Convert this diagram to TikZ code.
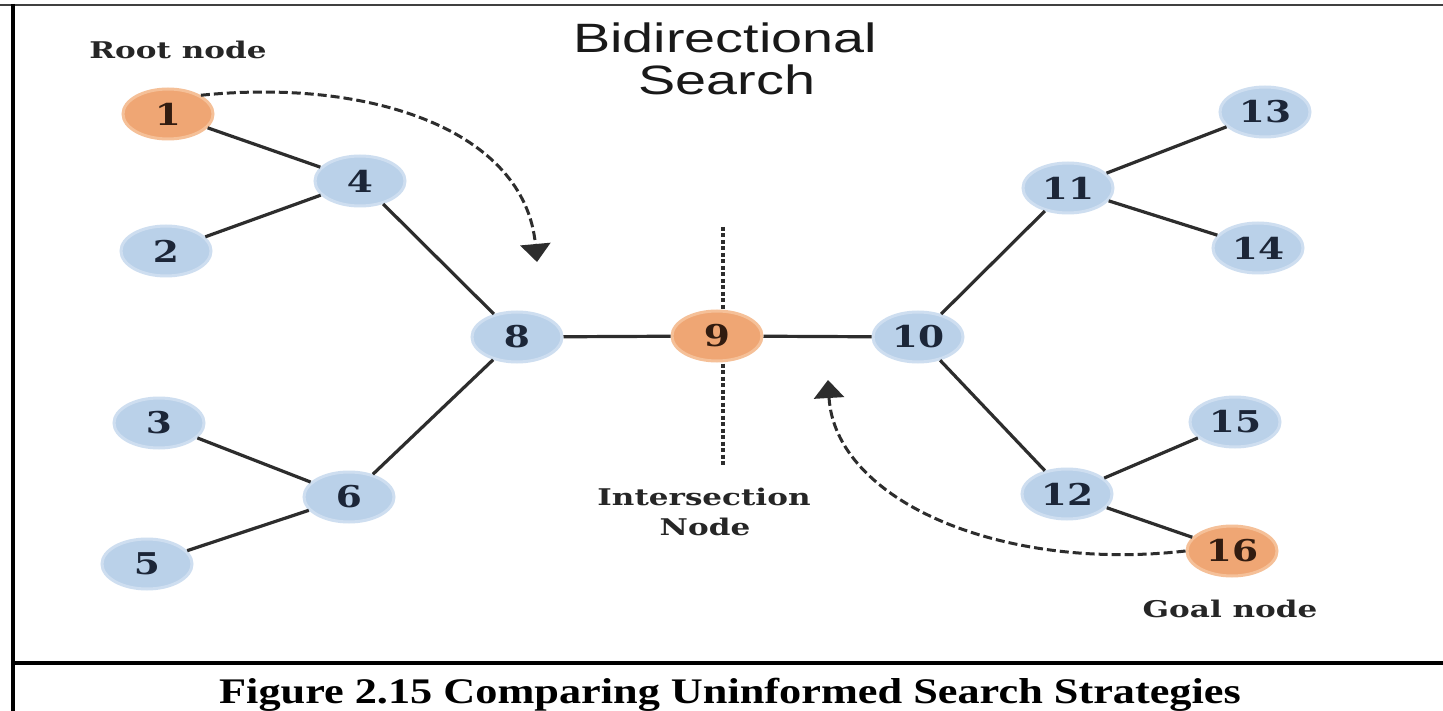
\documentclass[tikz,border=0pt]{standalone}
\usepackage{fontspec}
\usetikzlibrary{arrows.meta,shapes.geometric}
\setmainfont{Liberation Serif}
\newfontfamily\labelfont{DejaVu Serif}
\newfontfamily\titlefont{Liberation Sans}
\newcommand{\hstretch}[2]{\scalebox{#1}[1]{#2}}

\definecolor{nodeblue}{RGB}{186,209,233}
\definecolor{nodeblueedge}{RGB}{206,222,240}
\definecolor{nodeorange}{RGB}{239,166,116}
\definecolor{nodeorangeedge}{RGB}{245,192,152}
\definecolor{bluetext}{RGB}{28,38,56}
\definecolor{orangetext}{RGB}{50,28,16}
\definecolor{edgegray}{RGB}{45,45,45}

\begin{document}
\begin{tikzpicture}[x=1pt,y=-1pt,
  vertex/.style={ellipse, minimum width=90pt, minimum height=50pt, inner sep=0pt,
    line width=3pt, font=\labelfont\bfseries\fontsize{30}{30}\selectfont},
  bluev/.style={vertex, fill=nodeblue, draw=nodeblueedge, text=bluetext},
  orangev/.style={vertex, fill=nodeorange, draw=nodeorangeedge, text=orangetext},
  link/.style={edgegray, line width=3.2pt},
  search/.style={edgegray, line width=3pt, dash pattern=on 9pt off 4pt,
    -{Triangle[length=18pt,width=30pt]}},
  cut/.style={edgegray, line width=3.5pt, dash pattern=on 4pt off 2.5pt},
  tag/.style={anchor=base, inner sep=0pt, text=black!85,
    font=\labelfont\bfseries\fontsize{23}{23}\selectfont},
  heading/.style={anchor=base, inner sep=0pt, text=black!90,
    font=\titlefont\fontsize{41}{41}\selectfont},
  captionline/.style={anchor=base, inner sep=0pt, text=black,
    font=\bfseries\fontsize{36}{36}\selectfont},
]
\useasboundingbox (0,0) rectangle (1443,711);
\fill[white] (0,0) rectangle (1443,711);

% frame
\coordinate (ftl) at (0,5);
\coordinate (ftr) at (1443,5);
\coordinate (fl1) at (13,4);
\coordinate (fl2) at (13,711);
\coordinate (fs1) at (13,663);
\coordinate (fs2) at (1443,663);
\draw[black!75, line width=2.5pt] (ftl) -- (ftr);
\draw[black, line width=4pt] (fl1) -- (fl2);
\draw[black, line width=4pt] (fs1) -- (fs2);

% meeting line through the intersection node
\coordinate (cuttop) at (723,227);
\coordinate (cutbot) at (723,465);
\draw[cut] (cuttop) -- (cutbot);

% tree nodes
\node[orangev] (n1)  at (168,114) {\hstretch{1.25}{1}};
\node[bluev]   (n4)  at (360,181) {\hstretch{1.25}{4}};
\node[bluev]   (n2)  at (166,251) {\hstretch{1.25}{2}};
\node[bluev]   (n3)  at (159,423) {\hstretch{1.25}{3}};
\node[bluev]   (n6)  at (349,497) {\hstretch{1.25}{6}};
\node[bluev]   (n5)  at (147,564) {\hstretch{1.25}{5}};
\node[bluev]   (n8)  at (517,337) {\hstretch{1.25}{8}};
\node[orangev] (n9)  at (717,336) {\hstretch{1.25}{9}};
\node[bluev]   (n10) at (918,337) {\hstretch{1.25}{10}};
\node[bluev]   (n11) at (1068,188) {\hstretch{1.25}{11}};
\node[bluev]   (n13) at (1265,112) {\hstretch{1.25}{13}};
\node[bluev]   (n14) at (1258,248) {\hstretch{1.25}{14}};
\node[bluev]   (n12) at (1067,494) {\hstretch{1.25}{12}};
\node[bluev]   (n15) at (1235,422) {\hstretch{1.25}{15}};
\node[orangev] (n16) at (1232,551) {\hstretch{1.25}{16}};

% tree edges
\draw[link] (n1) -- (n4);
\draw[link] (n2) -- (n4);
\draw[link] (n4) -- (n8);
\draw[link] (n3) -- (n6);
\draw[link] (n5) -- (n6);
\draw[link] (n6) -- (n8);
\draw[link] (n8) -- (n9);
\draw[link] (n9) -- (n10);
\draw[link] (n10) -- (n11);
\draw[link] (n10) -- (n12);
\draw[link] (n11) -- (n13);
\draw[link] (n11) -- (n14);
\draw[link] (n12) -- (n15);
\draw[link] (n12) -- (n16);

% the two search fronts
\coordinate (fwdtip) at (537,262);
\coordinate (bwdtip) at (828,380);
\draw[search] (n1.north east) .. controls (370,78) and (525,130) .. (fwdtip);
\draw[search] (n16.west) .. controls (1000,572) and (835,500) .. (bwdtip);

% labels
\node[heading] (title1) at (725,53) {\hstretch{1.36}{Bidirectional}};
\node[heading] (title2) at (727,95) {\hstretch{1.36}{Search}};
\node[tag] (root) at (178,59) {\hstretch{1.35}{Root node}};
\node[tag] (inter1) at (704,505) {\hstretch{1.35}{Intersection}};
\node[tag] (inter2) at (705,535) {\hstretch{1.35}{Node}};
\node[tag] (goal) at (1230,617) {\hstretch{1.35}{Goal node}};
\node[captionline] (cap) at (730,703)
  {\hstretch{1.23}{Figure 2.15 Comparing Uninformed Search Strategies}};
\end{tikzpicture}
\end{document}
